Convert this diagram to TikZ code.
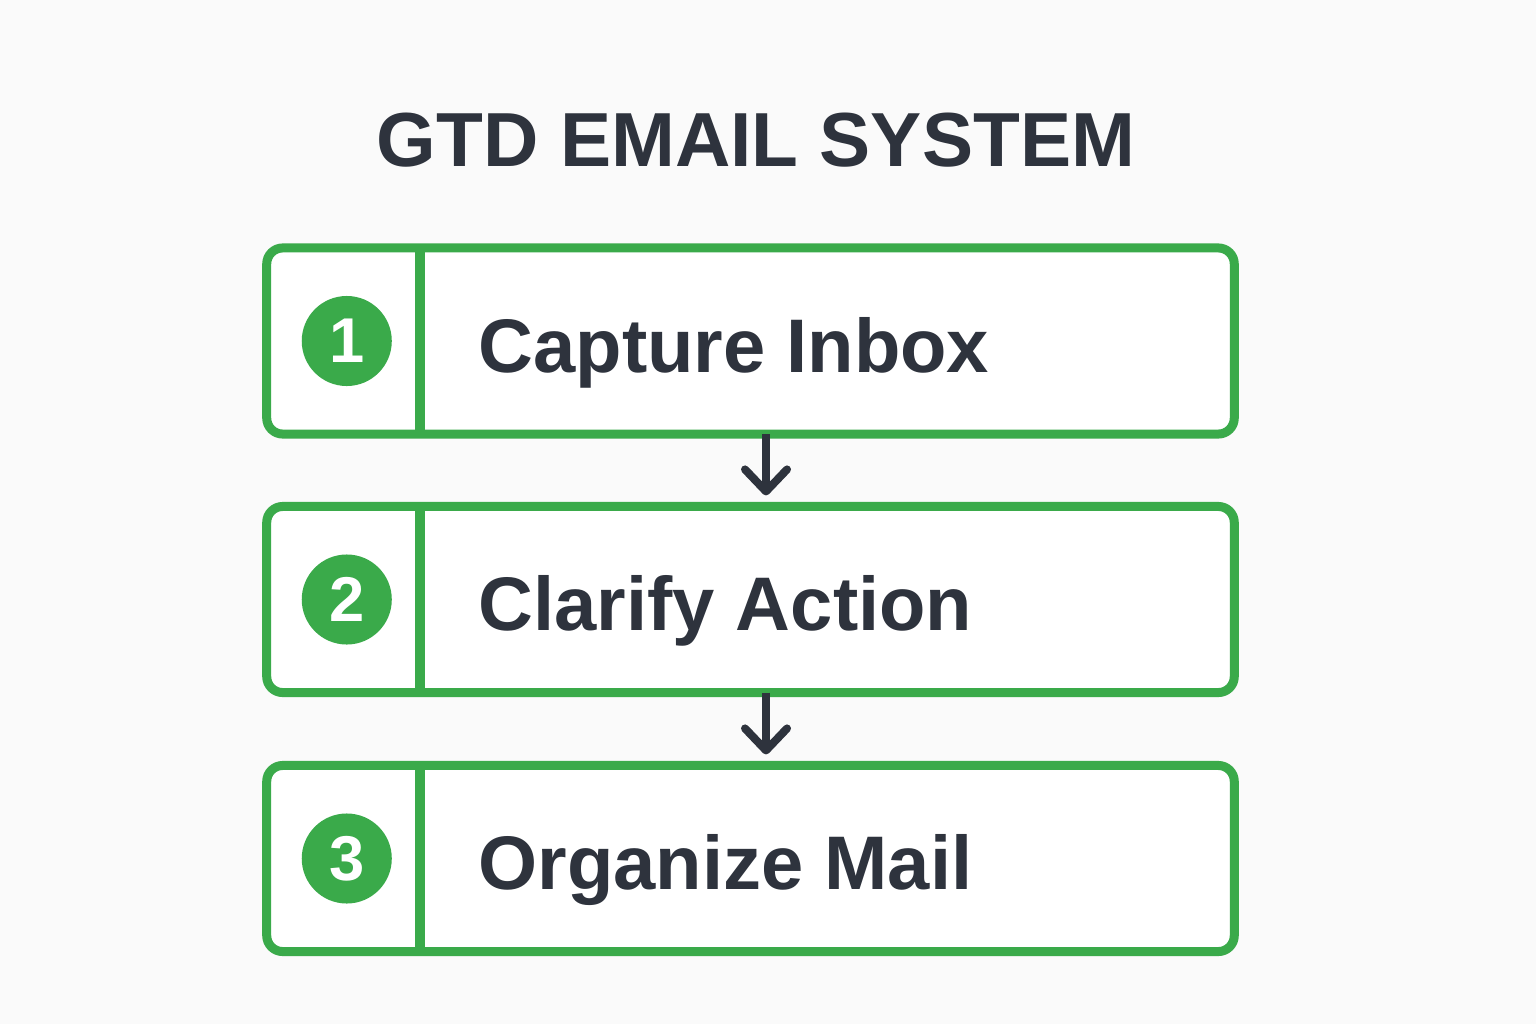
\documentclass[tikz,border=0pt]{standalone}
\usepackage{fontspec}
\setmainfont{Liberation Sans}
\usetikzlibrary{arrows.meta}
\definecolor{gtdgreen}{RGB}{58,170,74}
\definecolor{gtdink}{RGB}{46,51,61}
\definecolor{gtdbg}{RGB}{250,250,250}
\begin{document}
\begin{tikzpicture}[x=0.01cm,y=-0.01cm]
  \tikzset{stage box/.style={draw=gtdgreen,line width=0.09cm,rounded corners=0.16cm,fill=white,minimum width=9.67cm,minimum height=1.86cm,inner sep=0pt,outer sep=0pt},
    stage num/.style={circle,fill=gtdgreen,text=white,minimum size=0.9cm,inner sep=0pt,font=\fontsize{18}{20}\selectfont\bfseries},
    stage label/.style={anchor=base west,inner sep=0pt,text=gtdink,font=\fontsize{21.6}{26}\selectfont\bfseries},
    flow/.style={draw=gtdink,line width=0.08cm,-{Straight Barb[length=0.22cm,width=0.42cm,round]},shorten >=0.11cm}}

  \fill[gtdbg] (0,0) rectangle (1536,1024);

  \node[anchor=base,inner sep=0pt,text=gtdink,font=\fontsize{21.8}{26}\selectfont\bfseries] (title) at (756,166) {GTD EMAIL SYSTEM};

  \node[stage box] (A) at (750.5,341) {};
  \node[stage box] (B) at (750.5,599.5) {};
  \node[stage box] (C) at (750.5,858.5) {};

  \draw[gtdgreen,line width=0.1cm] ([xshift=1.53cm]A.north west) -- ([xshift=1.53cm]A.south west);
  \draw[gtdgreen,line width=0.1cm] ([xshift=1.53cm]B.north west) -- ([xshift=1.53cm]B.south west);
  \draw[gtdgreen,line width=0.1cm] ([xshift=1.53cm]C.north west) -- ([xshift=1.53cm]C.south west);

  \node[stage num] (nA) at ([xshift=0.8cm]A.west) {1};
  \node[stage num] (nB) at ([xshift=0.8cm]B.west) {2};
  \node[stage num] (nC) at ([xshift=0.8cm]C.west) {3};

  \node[stage label] (lA) at ([xshift=2.11cm,yshift=-0.31cm]A.west) {Capture Inbox};
  \node[stage label] (lB) at ([xshift=2.11cm,yshift=-0.31cm]B.west) {Clarify Action};
  \node[stage label] (lC) at ([xshift=2.11cm,yshift=-0.31cm]C.west) {Organize Mail};

  \draw[flow] ([xshift=0.155cm]A.south) -- ([xshift=0.155cm]B.north);
  \draw[flow] ([xshift=0.155cm]B.south) -- ([xshift=0.155cm]C.north);
\end{tikzpicture}
\end{document}
